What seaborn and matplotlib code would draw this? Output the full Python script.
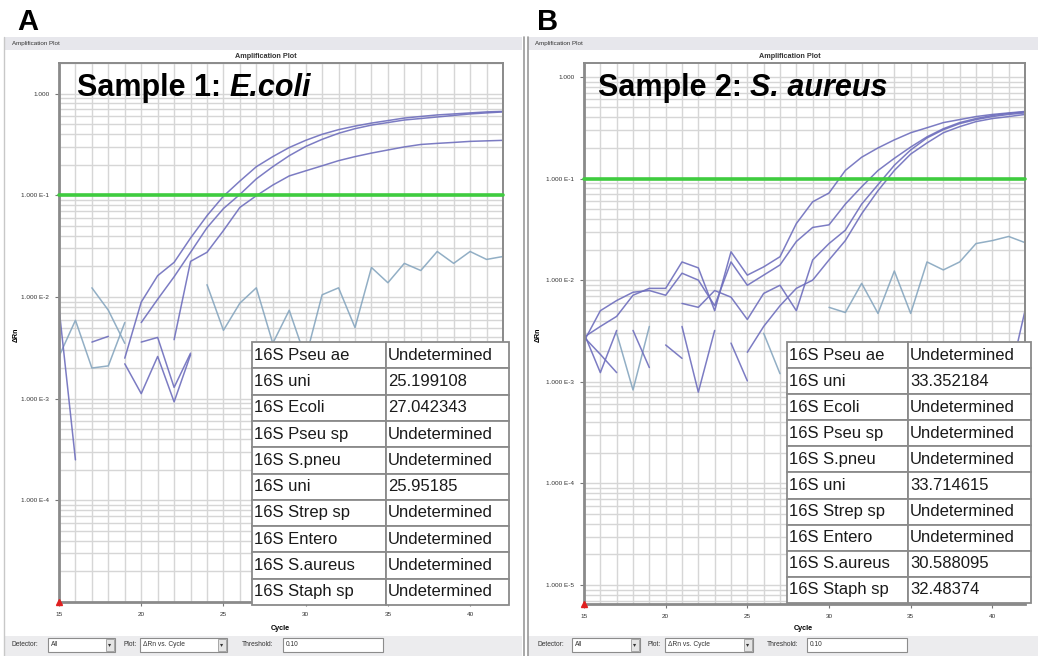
import numpy as np
import pandas as pd
import matplotlib
matplotlib.use("Agg")
import matplotlib.pyplot as plt
import seaborn as sns
from matplotlib.patches import Rectangle
from matplotlib.lines import Line2D
from matplotlib.ticker import LogLocator, NullFormatter, MultipleLocator, FixedLocator, FixedFormatter

nan = np.nan
CYCLES = list(range(15, 43))
THRESHOLD = 0.10

# ---------------- Panel A (Sample 1: E.coli) ----------------
A_UNI_1 = [nan]*4 + [0.0025, 0.0089, 0.0162, 0.0219, 0.038, 0.063, 0.098, 0.138, 0.191, 0.240,
                     0.295, 0.347, 0.398, 0.442, 0.479, 0.513, 0.543, 0.575, 0.596, 0.617,
                     0.631, 0.646, 0.661, 0.668]
A_UNI_2 = [nan]*5 + [0.0056, 0.0095, 0.0158, 0.0275, 0.048, 0.074, 0.102, 0.145, 0.191, 0.245,
                     0.302, 0.355, 0.407, 0.452, 0.490, 0.519, 0.550, 0.569, 0.589, 0.610,
                     0.631, 0.646, 0.661]
A_ECOLI = [nan]*7 + [0.0038, 0.0224, 0.0275, 0.045, 0.076, 0.099, 0.126, 0.155, 0.174, 0.195,
                     0.219, 0.240, 0.260, 0.279, 0.299, 0.316, 0.324, 0.331, 0.339, 0.343, 0.347]
A_STEEL = [nan]*9 + [0.0132, 0.0047, 0.0087, 0.0123, 0.0035, 0.0074, 0.0025, 0.0105, 0.0123,
                     0.0050, 0.0195, 0.0138, 0.0214, 0.0182, 0.028, 0.0214, 0.028, 0.0234, 0.025]
A_STEEL_L1 = [nan, nan, 0.0123, 0.0074, 0.0035] + [nan]*23
A_STEEL_L2 = [0.0026, 0.0059, 0.0020, 0.0021, 0.0056] + [nan]*23
A_FRAG_1 = [0.0078, 0.00025] + [nan]*26
A_FRAG_2 = [nan, nan, 0.0036, 0.0041] + [nan]*24
A_FRAG_3 = [nan]*4 + [0.0022, 0.00112, 0.0026, 0.00093, 0.0027] + [nan]*19
A_FRAG_4 = [nan]*5 + [0.0036, 0.0040, 0.00129, 0.0028] + [nan]*19

# ---------------- Panel B (Sample 2: S. aureus) ----------------
B_SAUR = [0.00275, 0.0035, 0.0044, 0.0071, 0.0083, 0.0083, 0.0151, 0.0132, 0.0050, 0.019,
          0.0112, 0.0135, 0.017, 0.036, 0.059, 0.072, 0.120, 0.162, 0.200, 0.240,
          0.282, 0.316, 0.355, 0.380, 0.407, 0.427, 0.442, 0.457]
B_STAPH = [0.0025, 0.0050, 0.0063, 0.0076, 0.0079, 0.0071, 0.0117, 0.0100, 0.0056, 0.0151,
           0.0089, 0.0112, 0.0141, 0.024, 0.033, 0.035, 0.056, 0.083, 0.120, 0.158,
           0.204, 0.257, 0.309, 0.355, 0.389, 0.417, 0.437, 0.452]
B_UNI_1 = [nan]*6 + [0.0059, 0.0054, 0.0079, 0.0068, 0.0041, 0.0074, 0.0089, 0.0050, 0.0158,
                     0.0229, 0.031, 0.056, 0.087, 0.135, 0.191, 0.251, 0.302, 0.347, 0.380,
                     0.407, 0.427, 0.442]
B_UNI_2 = [nan]*10 + [0.00195, 0.0035, 0.0056, 0.0083, 0.0100, 0.0158, 0.0245, 0.045, 0.076,
                      0.120, 0.174, 0.224, 0.282, 0.324, 0.363, 0.389, 0.407, 0.427]
B_STEEL = [nan]*11 + [0.0030, 0.0012, nan, nan, 0.0054, 0.0048, 0.0093, 0.0047, 0.0123, 0.0047,
                      0.0151, 0.0126, 0.0151, 0.0229, 0.0245, 0.0269, 0.0234]
B_STEEL_L = [nan, nan, 0.0030, 0.00083, 0.0035] + [nan]*23
B_FRAG_1 = [0.0030, 0.00123, 0.0032] + [nan]*25
B_FRAG_2 = [0.00275, 0.00186, 0.00123] + [nan]*25
B_FRAG_3 = [nan]*3 + [0.0032, 0.00138] + [nan]*23
B_FRAG_4 = [nan]*5 + [0.0023, 0.0017] + [nan]*21
B_FRAG_5 = [nan]*6 + [0.0035, 0.00079, 0.0032] + [nan]*19
B_FRAG_6 = [nan]*9 + [0.0024, 0.00102] + [nan]*17
B_FRAG_7 = [nan]*26 + [0.0010, 0.0050]

# ---------------- Tables ----------------
TARGETS = ["16S Pseu ae", "16S uni", "16S Ecoli", "16S Pseu sp", "16S S.pneu",
           "16S uni", "16S Strep sp", "16S Entero", "16S S.aureus", "16S Staph sp"]
CT_A = ["Undetermined", "25.199108", "27.042343", "Undetermined", "Undetermined",
        "25.95185", "Undetermined", "Undetermined", "Undetermined", "Undetermined"]
CT_B = ["Undetermined", "33.352184", "Undetermined", "Undetermined", "Undetermined",
        "33.714615", "Undetermined", "Undetermined", "30.588095", "32.48374"]

YTICK_A = [1.0, 1e-1, 1e-2, 1e-3, 1e-4]
YTICK_B = [1.0, 1e-1, 1e-2, 1e-3, 1e-4, 1e-5]
YLABELS = ["1.000", "1.000 E-1", "1.000 E-2", "1.000 E-3", "1.000 E-4", "1.000 E-5"]
XTICKS = [15, 20, 25, 30, 35, 40]

PURPLE = "#6e6ebd"
STEEL = "#86a6bf"
GREEN = "#3fcc3f"

sns.set_style("white")
plt.rcParams["font.family"] = ["Liberation Sans", "DejaVu Sans"]
plt.rcParams["text.color"] = "black"

W, H = 1038, 656
fig = plt.figure(figsize=(W / 100, H / 100), dpi=100)
fig.patch.set_facecolor("white")


def fx(x):
    return x / W


def fy(y):
    return 1 - y / H


def rect(x0, y0, x1, y1, **kw):
    fig.patches.append(Rectangle((fx(x0), fy(y1)), (x1 - x0) / W, (y1 - y0) / H,
                                 transform=fig.transFigure, **kw))


def vline(x, y0, y1, **kw):
    fig.lines.append(Line2D([fx(x), fx(x)], [fy(y0), fy(y1)], transform=fig.transFigure, **kw))


def ftext(x, y, s, **kw):
    kw.setdefault("color", "black")
    return fig.text(fx(x), fy(y), s, **kw)


def build_df(series):
    rows = []
    for name, (kind, vals) in series.items():
        seg = 0
        run = []
        for c, v in zip(CYCLES, vals):
            if np.isnan(v):
                if len(run) >= 2:
                    rows += [(name, kind, f"{name}_{seg}", cc, vv) for cc, vv in run]
                    seg += 1
                run = []
            else:
                run.append((c, v))
        if len(run) >= 2:
            rows += [(name, kind, f"{name}_{seg}", cc, vv) for cc, vv in run]
    return pd.DataFrame(rows, columns=["series", "kind", "seg", "cycle", "dRn"])


series_A = {
    "A_uni_1": ("amp", A_UNI_1), "A_uni_2": ("amp", A_UNI_2), "A_ecoli": ("amp", A_ECOLI),
    "A_steel": ("steel", A_STEEL), "A_steel_l1": ("steel", A_STEEL_L1),
    "A_steel_l2": ("steel", A_STEEL_L2),
    "A_f1": ("amp", A_FRAG_1), "A_f2": ("amp", A_FRAG_2), "A_f3": ("amp", A_FRAG_3),
    "A_f4": ("amp", A_FRAG_4),
}
series_B = {
    "B_saur": ("amp", B_SAUR), "B_staph": ("amp", B_STAPH), "B_uni_1": ("amp", B_UNI_1),
    "B_uni_2": ("amp", B_UNI_2), "B_steel": ("steel", B_STEEL), "B_steel_l": ("steel", B_STEEL_L),
    "B_f1": ("amp", B_FRAG_1), "B_f2": ("amp", B_FRAG_2), "B_f3": ("amp", B_FRAG_3),
    "B_f4": ("amp", B_FRAG_4), "B_f5": ("amp", B_FRAG_5), "B_f6": ("amp", B_FRAG_6),
    "B_f7": ("amp", B_FRAG_7),
}

# ---------------- figure decorations (window chrome) ----------------
for x0, x1 in [(4, 522), (528, 1038)]:
    rect(x0, 37, x1, 50, facecolor="#e7e7ec", edgecolor="none", zorder=0)
    rect(x0, 636, x1, 656, facecolor="#ececee", edgecolor="none", zorder=0)
vline(4, 37, 656, color="#c8c8c8", lw=1.0)
vline(524, 37, 656, color="#9a9a9a", lw=1.2)
vline(528, 37, 656, color="#9a9a9a", lw=1.2)

panels = [
    dict(df=build_df(series_A), ax=(59, 63, 503, 602), ylim=(1e-5, 2.0), yt=YTICK_A,
         letter=(17, "A"), header=12, title=266, ylab=16, xlab=280,
         s1="Sample 1: ", s2="E.coli", sx=77,
         table=(252, 342, 509, 605), colw=[0.521, 0.479], ct=CT_A,
         ctrl=dict(det=12, box1=(48, 115), plot=123, box2=(140, 227), thr=242, box3=(283, 383))),
    dict(df=build_df(series_B), ax=(584, 63, 1025, 604), ylim=(6.5e-6, 1.37), yt=YTICK_B,
         letter=(537, "B"), header=535, title=790, ylab=538, xlab=803,
         s1="Sample 2: ", s2="S. aureus", sx=598,
         table=(787, 342, 1031, 603), colw=[0.496, 0.504], ct=CT_B,
         ctrl=dict(det=537, box1=(572, 640), plot=648, box2=(665, 753), thr=767, box3=(807, 907))),
]

tick_fs = 4.6
for p in panels:
    x0, y0, x1, y1 = p["ax"]
    ax = fig.add_axes([fx(x0), fy(y1), (x1 - x0) / W, (y1 - y0) / H])
    df = p["df"]
    pal = {s: (PURPLE if k == "amp" else STEEL) for s, k in df.groupby("series")["kind"].first().items()}
    sns.lineplot(data=df, x="cycle", y="dRn", hue="series", units="seg", estimator=None,
                 palette=pal, legend=False, sort=False, linewidth=1.1, alpha=0.9, ax=ax)
    ax.set_yscale("log")
    ax.set_xlim(15, 42)
    ax.set_ylim(*p["ylim"])
    ax.axhline(THRESHOLD, color=GREEN, lw=2.6, zorder=5, clip_on=False)
    ax.plot([15], [p["ylim"][0]], marker="^", color="#e02020", markersize=4, clip_on=False, zorder=6)

    ax.yaxis.set_major_locator(FixedLocator(p["yt"]))
    ax.yaxis.set_major_formatter(FixedFormatter(YLABELS[:len(p["yt"])]))
    ax.yaxis.set_minor_locator(LogLocator(base=10, subs=np.arange(2, 10), numticks=20))
    ax.yaxis.set_minor_formatter(NullFormatter())
    ax.xaxis.set_major_locator(FixedLocator(XTICKS))
    ax.xaxis.set_minor_locator(MultipleLocator(1))
    ax.tick_params(axis="both", which="major", labelsize=tick_fs, labelcolor="#333333",
                   length=3, width=0.8, color="#777777", pad=4, left=True, bottom=True)
    ax.tick_params(axis="both", which="minor", length=0)
    ax.set_axisbelow(True)
    ax.grid(True, which="both", axis="both", color="#d6d6d6", lw=1.0)
    ax.set_xlabel("")
    ax.set_ylabel("")
    for side, sp in ax.spines.items():
        sp.set_visible(True)
        sp.set_color("#8a8a8a")
        sp.set_linewidth(2.0 if side in ("left", "bottom") else 1.4)

    # labels
    ftext(p["letter"][0], 22, p["letter"][1], fontsize=21, fontweight="bold", ha="left", va="center")
    ftext(p["header"], 44, "Amplification Plot", fontsize=4.5, color="#333333", ha="left", va="center")
    ftext(p["title"], 57, "Amplification Plot", fontsize=5.2, fontweight="bold", color="#333333",
          ha="center", va="center")
    ftext(p["ylab"], 335, "ΔRn", fontsize=5.0, fontweight="bold", rotation=90, ha="center", va="center")
    ftext(p["xlab"], 629, "Cycle", fontsize=5.2, fontweight="bold", ha="center", va="center")

    # controls bar
    c = p["ctrl"]
    cfs = 4.8
    ftext(c["det"], 645, "Detector:", fontsize=cfs, color="#333333", ha="left", va="center")
    ftext(c["plot"], 645, "Plot:", fontsize=cfs, color="#333333", ha="left", va="center")
    ftext(c["thr"], 645, "Threshold:", fontsize=cfs, color="#333333", ha="left", va="center")
    for (bx0, bx1), label, btn in [(c["box1"], "All", True), (c["box2"], "ΔRn vs. Cycle", True),
                                   (c["box3"], "0.10", False)]:
        rect(bx0, 638, bx1, 652, facecolor="white", edgecolor="#8c8c8c", lw=0.8, zorder=1)
        ftext(bx0 + 3, 645, label, fontsize=cfs, color="#333333", ha="left", va="center")
        if btn:
            rect(bx1 - 9, 639, bx1 - 1, 651, facecolor="#e4e4e4", edgecolor="#9a9a9a", lw=0.6, zorder=2)
            ftext(bx1 - 5, 645, "▾", fontsize=4.5, color="#333333", ha="center", va="center",
                  family=["DejaVu Sans"])

    # big sample caption
    t1 = ftext(p["sx"], 88, p["s1"].strip(), fontsize=22, fontweight="bold", ha="left", va="center")
    fig.canvas.draw()
    bb = t1.get_window_extent()
    gap = 8.5
    fig.text((bb.x1 + gap) / W, fy(88), p["s2"], fontsize=22, fontweight="bold", fontstyle="italic",
             color="black", ha="left", va="center")

    # Ct table
    tx0, ty0, tx1, ty1 = p["table"]
    tax = fig.add_axes([fx(tx0), fy(ty1), (tx1 - tx0) / W, (ty1 - ty0) / H])
    tax.set_axis_off()
    cell_text = [[t, v] for t, v in zip(TARGETS, p["ct"])]
    tab = tax.table(cellText=cell_text, cellLoc="left", colWidths=p["colw"], bbox=[0, 0, 1, 1])
    tab.auto_set_font_size(False)
    tab.set_fontsize(12)
    for (r, cidx), cell in tab.get_celld().items():
        cell.set_edgecolor("#8a8a8a")
        cell.set_linewidth(1.3)
        cell.set_facecolor("white")
        cell.PAD = 0.015
        cell.get_text().set_color("#1a1a1a")
        cell.get_text().set_fontfamily(["Liberation Sans", "DejaVu Sans"])

fig.savefig("out.png", dpi=100, facecolor="white")
